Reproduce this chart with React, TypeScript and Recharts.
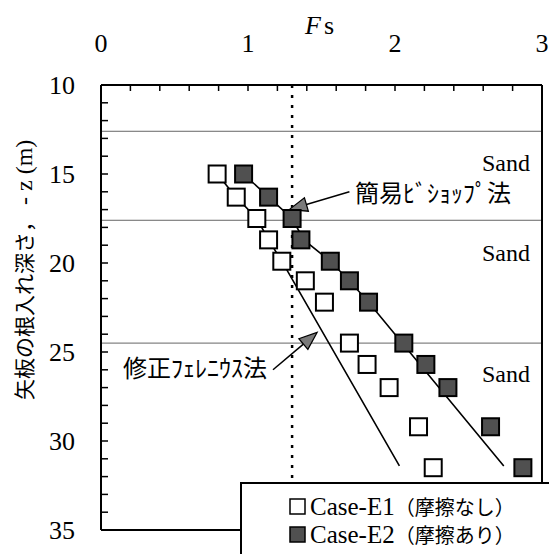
import { ComposedChart, XAxis, YAxis, Scatter, ReferenceLine } from 'recharts'

// measured points: embedment depth -z (m) and safety factor Fs
const depth = [15.0, 16.3, 17.5, 18.7, 19.9, 21.0, 22.2, 24.5, 25.7, 27.0, 29.2, 31.5]
const fsE1 = [0.79, 0.92, 1.06, 1.14, 1.23, 1.39, 1.52, 1.69, 1.81, 1.96, 2.16, 2.26]
const fsE2 = [0.97, 1.14, 1.30, 1.36, 1.56, 1.69, 1.82, 2.06, 2.21, 2.36, 2.65, 2.87]

// calculated curves
const bishopDepth = [15.0, 16.3, 17.5, 18.7, 19.9, 21.0, 22.2, 31.4]
const bishopFs = [0.97, 1.14, 1.30, 1.38, 1.56, 1.69, 1.82, 2.74]
const felleniusDepth = [15.0, 16.3, 17.5, 18.7, 19.9, 31.4]
const felleniusFs = [0.79, 0.92, 1.06, 1.14, 1.23, 2.03]

// arrows pointing from the annotation text to the curve
const bishopArrow = [{ fs: 1.69, depth: 16.0 }, { fs: 1.28, depth: 17.0 }]
const felleniusArrow = [{ fs: 1.17, depth: 26.0 }, { fs: 1.47, depth: 23.9 }]

const layerBounds = [12.6, 17.6, 24.5]
const designFs = 1.3

const fsTicks = [0, 0.2, 0.4, 0.6, 0.8, 1, 1.2, 1.4, 1.6, 1.8, 2, 2.2, 2.4, 2.6, 2.8, 3]
const depthTicks = [10, 11, 12, 13, 14, 15, 16, 17, 18, 19, 20, 21, 22, 23, 24, 25, 26, 27, 28, 29, 30, 31, 32, 33, 34, 35]

const caseNames = ['Case-E1', 'Case-E2']
const caseNotes = ['（摩擦なし）', '（摩擦あり）']

const e1 = depth.map((d, i) => ({ depth: d, fs: fsE1[i] }))
const e2 = depth.map((d, i) => ({ depth: d, fs: fsE2[i] }))
const bishop = bishopDepth.map((d, i) => ({ depth: d, fs: bishopFs[i] }))
const fellenius = felleniusDepth.map((d, i) => ({ depth: d, fs: felleniusFs[i] }))

const SERIF = '"Liberation Serif", "Times New Roman", Tinos, serif'
const JP = '"Noto Sans CJK JP", "Noto Sans", sans-serif'

const PLOT_TOP = 85
const PLOT_LEFT = 101

function FsTick(props: any) {
    const { x, payload } = props
    const v = payload.value
    const major = Math.abs(v - Math.round(v)) < 1e-6
    return (
        <g>
            <line x1={x} x2={x} y1={PLOT_TOP} y2={PLOT_TOP + 6} stroke="#000" strokeWidth={1.5} />
            {major && (
                <text x={x} y={PLOT_TOP - 33} textAnchor="middle" fill="#000">
                    <tspan fontFamily={SERIF} fontSize={26}>{v}</tspan>
                </text>
            )}
        </g>
    )
}

function DepthTick(props: any) {
    const { y, payload } = props
    const v = payload.value
    return (
        <g>
            <line x1={PLOT_LEFT} x2={PLOT_LEFT + 7} y1={y} y2={y} stroke="#000" strokeWidth={1.5} />
            {v % 5 === 0 && (
                <text x={75} y={y + 9} textAnchor="end" fill="#000">
                    <tspan fontFamily={SERIF} fontSize={26}>{v}</tspan>
                </text>
            )}
        </g>
    )
}

const OpenSquare = (p: any) => (
    <rect x={p.cx - 8.5} y={p.cy - 8.5} width={17} height={17} fill="#fff" stroke="#000" strokeWidth={2} />
)
const FilledSquare = (p: any) => (
    <rect x={p.cx - 8.5} y={p.cy - 8.5} width={17} height={17} fill="#505050" stroke="#000" strokeWidth={2} />
)
const NoDot = () => <g />

function Arrow(props: any) {
    const { x1, y1, x2, y2 } = props
    const a = Math.atan2(y2 - y1, x2 - x1)
    const L = 18
    const W = 7
    const bx = x2 - L * Math.cos(a)
    const by = y2 - L * Math.sin(a)
    const px = -Math.sin(a) * W
    const py = Math.cos(a) * W
    return (
        <g>
            <line x1={x1} y1={y1} x2={bx} y2={by} stroke="#000" strokeWidth={1.5} />
            <polygon points={`${x2},${y2} ${bx + px},${by + py} ${bx - px},${by - py}`}
                fill="#7a7a7a" stroke="#000" strokeWidth={1.2} />
        </g>
    )
}

export default function App() {
    return (
        <div style={{ position: 'absolute', left: 0, top: 0, width: 549, height: 554, overflow: 'hidden', background: '#fff' }}>
            <ComposedChart width={549} height={554} margin={{ top: 45, right: 7, bottom: 24, left: 41 }}>
                <XAxis
                    type="number"
                    dataKey="fs"
                    orientation="top"
                    domain={[0, 3]}
                    ticks={fsTicks}
                    interval={0}
                    tick={<FsTick />}
                    tickLine={false}
                    axisLine={{ stroke: '#000', strokeWidth: 2 }}
                    height={40}
                    allowDataOverflow
                />
                <YAxis
                    type="number"
                    dataKey="depth"
                    domain={[10, 35]}
                    reversed
                    ticks={depthTicks}
                    interval={0}
                    tick={<DepthTick />}
                    tickLine={false}
                    axisLine={{ stroke: '#000', strokeWidth: 2 }}
                    width={60}
                    allowDataOverflow
                />

                {layerBounds.map((b) => (
                    <ReferenceLine key={b} y={b} stroke="#666" strokeWidth={1} />
                ))}
                <ReferenceLine x={designFs} stroke="#000" strokeWidth={2.5} strokeDasharray="3 7" />
                <ReferenceLine x={3} stroke="#000" strokeWidth={2} />
                <ReferenceLine y={35} stroke="#000" strokeWidth={2} />

                <Scatter data={fellenius} line={{ stroke: '#000', strokeWidth: 1.6 }} shape={NoDot} isAnimationActive={false} />
                <Scatter data={bishop} line={{ stroke: '#000', strokeWidth: 1.6 }} shape={NoDot} isAnimationActive={false} />

                <ReferenceLine segment={[{ x: bishopArrow[0].fs, y: bishopArrow[0].depth }, { x: bishopArrow[1].fs, y: bishopArrow[1].depth }]} shape={Arrow} />
                <ReferenceLine segment={[{ x: felleniusArrow[0].fs, y: felleniusArrow[0].depth }, { x: felleniusArrow[1].fs, y: felleniusArrow[1].depth }]} shape={Arrow} />

                <Scatter data={e1} shape={OpenSquare} isAnimationActive={false} />
                <Scatter data={e2} shape={FilledSquare} isAnimationActive={false} />
            </ComposedChart>

            {/* titles, annotations and legend drawn on top of the chart */}
            <svg width={549} height={554} style={{ position: 'absolute', left: 0, top: 0, pointerEvents: 'none' }}>
                <text x={305} y={34} fill="#000">
                    <tspan fontFamily={SERIF} fontSize={26} fontStyle="italic">F</tspan>
                    <tspan fontFamily={SERIF} fontSize={26} dx={3}>s</tspan>
                </text>
                <text transform="translate(32, 400) rotate(-90)" fill="#000">
                    <tspan fontFamily={JP} fontSize={21}>矢板の根入れ深さ，</tspan>
                    <tspan dx={6} fontFamily={SERIF} fontSize={24}>- z (m)</tspan>
                </text>

                {[163, 253, 374].map((y) => (
                    <text key={y} x={530} y={y + 8} textAnchor="end" fill="#000">
                        <tspan fontFamily={SERIF} fontSize={24}>Sand</tspan>
                    </text>
                ))}
                <text x={355} y={202} fill="#000">
                    <tspan fontFamily={JP} fontSize={24}>簡易ﾋﾞｼｮｯﾌﾟ法</tspan>
                </text>
                <text x={123} y={377} fill="#000">
                    <tspan fontFamily={JP} fontSize={24}>修正ﾌｪﾚﾆｳｽ法</tspan>
                </text>

                <rect x={241} y={483} width={330} height={100} fill="#fff" stroke="#000" strokeWidth={2} />
                <rect x={290} y={499} width={15} height={15} fill="#fff" stroke="#000" strokeWidth={1.5} />
                <rect x={290} y={527} width={15} height={15} fill="#505050" stroke="#000" strokeWidth={1.5} />
                {caseNames.map((n, i) => (
                    <text key={n} x={310} y={515 + i * 28} fill="#000">
                        <tspan fontFamily={SERIF} fontSize={25}>{n}</tspan>
                        <tspan fontFamily={JP} fontSize={20}>{caseNotes[i]}</tspan>
                    </text>
                ))}
            </svg>
        </div>
    )
}
